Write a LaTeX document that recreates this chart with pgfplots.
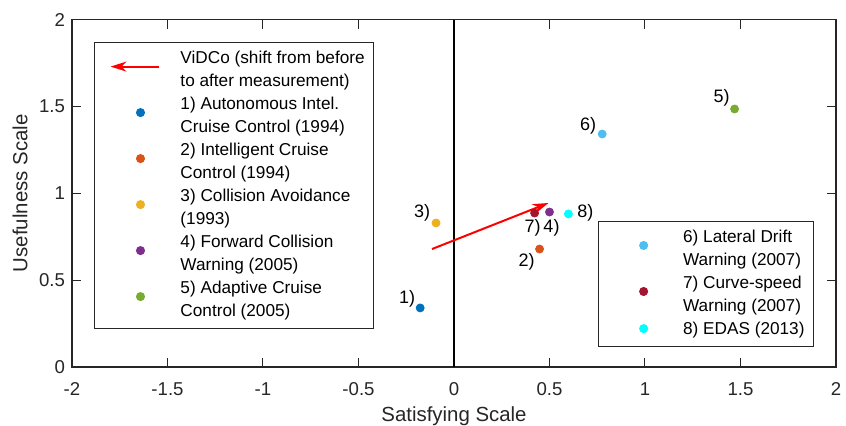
\documentclass[border=0pt]{standalone}
\usepackage{fontspec}
\setmainfont{Liberation Sans}
\usepackage{pgfplots}
\pgfplotsset{compat=1.18}
\usetikzlibrary{arrows.meta}

\definecolor{axgray}{RGB}{38,38,38}
\definecolor{c1}{RGB}{0,114,189}
\definecolor{c2}{RGB}{217,83,25}
\definecolor{c3}{RGB}{237,177,32}
\definecolor{c4}{RGB}{126,47,142}
\definecolor{c5}{RGB}{119,172,48}
\definecolor{c6}{RGB}{77,190,238}
\definecolor{c7}{RGB}{162,20,47}
\definecolor{c8}{RGB}{0,255,255}

\newcommand{\lentry}[1]{\begin{tabular}{@{}l@{}}#1\end{tabular}}

\pgfplotsset{
  common/.style={
    scale only axis, width=382pt, height=173.75pt,
    xmin=-2, xmax=2, ymin=0, ymax=2,
    legend cell align=left,
    legend style={draw=axgray, line width=0.5pt, fill=white,
      inner xsep=4.5pt, inner ysep=2.5pt,
      font=\fontsize{8.6}{11.5}\selectfont,
      nodes={inner sep=0pt, text depth=}},
  },
  pt/.style={only marks, mark=*, mark size=2pt,
    color=#1, mark options={draw=#1, fill=#1}},
  ptleg/.style={legend image code/.code={
      \path (0pt,0pt) (37.5pt,0pt);
      \draw[mark repeat=1,##1] plot coordinates {(18pt,#1)};}},
}

\begin{document}
\begin{tikzpicture}
\path[use as bounding box] (-36pt,-29pt) rectangle (387pt,183.5pt);
\begin{axis}[common,
  xtick={-2,-1.5,-1,-0.5,0,0.5,1,1.5,2},
  ytick={0,0.5,1,1.5,2},
  /pgf/number format/assume math mode=true,
  tick align=inside, major tick length=4.5pt,
  tick style={axgray, line width=0.5pt},
  axis line style={axgray, line width=0.6pt},
  tick label style={font=\fontsize{9.3}{11}\selectfont, color=axgray},
  xticklabel style={yshift=-4.3pt},
  label style={font=\fontsize{10.2}{12}\selectfont, color=axgray},
  xlabel={Satisfying Scale},
  ylabel={Usefulness Scale},
  xlabel style={at={(axis description cs:0.5,-0.158)}, anchor=base},
  ylabel style={at={(axis description cs:-0.068,0.5)}, anchor=center},
  legend style={at={(0.0288,0.935)}, anchor=north west},
]
\addplot[black, line width=0.6pt, forget plot] coordinates {(0,0) (0,2)};

\addplot[red, line width=1pt,
  -{Stealth[length=8pt, width=5pt, inset=2.5pt]},
  quiver={u=\thisrow{u}, v=\thisrow{v}},
  legend image code/.code={
    \path[-] (0pt,2pt) (37.5pt,2pt);
    \draw[red, line width=1pt, -{Stealth[length=8pt, width=5pt, inset=2.5pt]}]
      (27.5pt,2pt) -- (3pt,2pt);}]
  table {
x y u v
-0.115 0.679 0.61 0.265
};
\addlegendentry{\lentry{ViDCo (shift from before\\to after measurement)}}

\addplot[pt=c1, ptleg=2pt] coordinates {(-0.177,0.340)};
\addlegendentry{\lentry{1) Autonomous Intel.\\Cruise Control (1994)}}
\addplot[pt=c2, ptleg=2pt] coordinates {(0.448,0.679)};
\addlegendentry{\lentry{2) Intelligent Cruise\\Control (1994)}}
\addplot[pt=c3, ptleg=2pt] coordinates {(-0.094,0.829)};
\addlegendentry{\lentry{3) Collision Avoidance\\(1993)}}
\addplot[pt=c4, ptleg=2pt] coordinates {(0.500,0.892)};
\addlegendentry{\lentry{4) Forward Collision\\Warning (2005)}}
\addplot[pt=c5, ptleg=2pt] coordinates {(1.469,1.485)};
\addlegendentry{\lentry{5) Adaptive Cruise\\Control (2005)}}

\begin{scope}[font=\fontsize{9}{11}\selectfont]
\node[xshift=-6.5pt, yshift=4.5pt] at (axis cs:-0.177,0.340) {1)};
\node[xshift=-6.5pt, yshift=-6.5pt] at (axis cs:0.448,0.679) {2)};
\node[xshift=-7pt, yshift=5pt] at (axis cs:-0.094,0.829) {3)};
\node[xshift=1pt, yshift=-8pt] at (axis cs:0.500,0.892) {4)};
\node[xshift=-6.5pt, yshift=5.5pt] at (axis cs:1.469,1.485) {5)};
\node[xshift=-7pt, yshift=4pt] at (axis cs:0.776,1.341) {6)};
\node[xshift=-1pt, yshift=-7.5pt] at (axis cs:0.422,0.886) {7)};
\node[xshift=8.5pt, yshift=0.5pt] at (axis cs:0.599,0.881) {8)};
\end{scope}
\end{axis}

\begin{axis}[common, hide axis,
  legend style={at={(0.688,0.0576)}, anchor=south west},
]
\addplot[pt=c6, ptleg=2pt] coordinates {(0.776,1.341)};
\addlegendentry{\lentry{6) Lateral Drift\\Warning (2007)}}
\addplot[pt=c7, ptleg=2pt] coordinates {(0.422,0.886)};
\addlegendentry{\lentry{7) Curve-speed\\Warning (2007)}}
\addplot[pt=c8, ptleg=0.7pt] coordinates {(0.599,0.881)};
\addlegendentry{\lentry{8) EDAS (2013)}}
\end{axis}
\end{tikzpicture}
\end{document}
